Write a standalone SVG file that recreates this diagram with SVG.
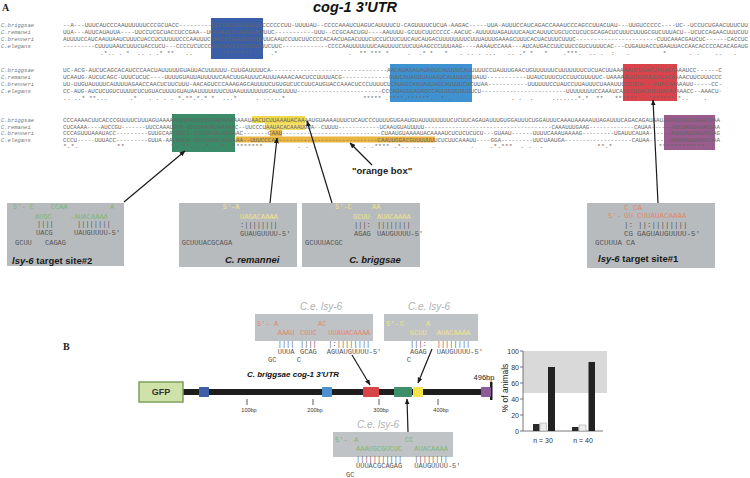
<svg xmlns="http://www.w3.org/2000/svg" width="750" height="478" viewBox="0 0 750 478">
<defs>
<marker id="ah" viewBox="0 0 10 10" refX="9" refY="5" markerWidth="6" markerHeight="6" orient="auto" markerUnits="userSpaceOnUse"><path d="M0,1 L10,5 L0,9 z" fill="#1a1a1a"/></marker>
<style>
.seq{font-family:"Liberation Mono",monospace;font-size:5.5px;fill:#666}
.sp{font-family:"Liberation Mono",monospace;font-size:5.5px;fill:#777;font-style:italic}
.m{font-family:"Liberation Mono",monospace;font-size:7px}
.m8{font-family:"Liberation Mono",monospace;font-size:7.5px}
.g{fill:#7fb673}.y{fill:#eee488}.r{fill:#e0876c}.k{fill:#555}
.lab{font-family:"Liberation Sans",Arial,sans-serif;font-weight:bold;font-size:9.5px;fill:#1a1a1a}
.ce{font-family:"Liberation Sans",Arial,sans-serif;font-style:italic;font-size:10px;fill:#b0b0b0}
.gb{fill:#b8bbbd}
.gb2{fill:#c0c3c5}
.ln{stroke:#1a1a1a;stroke-width:1.2;fill:none;marker-end:url(#ah)}
.sm{font-family:"Liberation Sans",Arial,sans-serif;font-size:5.5px;fill:#333}
.ax{font-family:"Liberation Sans",Arial,sans-serif;font-size:7px;fill:#333}
</style>
</defs>
<rect width="750" height="478" fill="#fff"/>
<text x="2" y="11" font-family="Liberation Serif,serif" font-weight="bold" font-size="10" fill="#222">A</text>
<text x="355" y="12" text-anchor="middle" font-family="Liberation Sans,Arial,sans-serif" font-weight="bold" font-style="italic" font-size="14.5" fill="#111">cog-1 3'UTR</text>

<!-- highlight boxes -->
<g id="highlights">
<rect x="211" y="18" width="52" height="41" fill="#3a5fa8"/>
<rect x="390" y="64" width="82" height="38" fill="#3f92d2"/>
<rect x="623" y="64" width="54" height="37" fill="#d9444c"/>
<rect x="172" y="114" width="63" height="38" fill="#3b8a68"/>
<rect x="664" y="115" width="51" height="35" fill="#9a5b8d"/>
<rect x="252" y="116" width="53" height="7" fill="#f0da4c"/>
<rect x="265" y="123" width="40" height="7" fill="#f3e06a"/>
<rect x="270" y="130" width="12" height="6.5" fill="#e9b540"/>
<rect x="236" y="136.5" width="199" height="6" fill="#e9b540"/>
</g>

<!-- alignment block 1 -->
<g id="block1">
<text class="sp" x="1" y="27">C.briggsae</text>
<text class="sp" x="1" y="34">C.remanei</text>
<text class="sp" x="1" y="41">C.brenneri</text>
<text class="sp" x="1" y="48">C.elegans</text>
<text class="seq" x="63" y="27" textLength="685" lengthAdjust="spacingAndGlyphs">--A---UUUCAUCCCAAUUUUUUCCCGCUACC---------UCCCAGUGUUUUUUCCCCCCUU-UUUUAU--CCCCAAAUCUAGUCAUUUUCU-CAGUUUUCUCUA-AAGAC-----UUA-AUUUCCAUCAGACCAAAUCCCAGCCUUACUAU---UUGUCCCCC----UC--UCCUCUGAACUUUCUU</text>
<text class="seq" x="63" y="34" textLength="685" lengthAdjust="spacingAndGlyphs">UUA---AUUCAUAUUA----UUCCUCGCUACCUCCGAA--UCCUAUCCCAGUGUUUUUC-----------UUU--CCGCAACUGU----AAUUUU-GCUUCUUCCCCC-AACUC-AUUUUUAGAUUUCAAUCAUUUCUGCUCCUCUCGCAGACUCUUUCUUUGCGUCUUUACU--UCUCCAGAACUUUCUU</text>
<text class="seq" x="63" y="41" textLength="685" lengthAdjust="spacingAndGlyphs">AUUUUCCAUCAAUUAAUCUUUCUACCUCUUUUUCCCAAUUUCUAUCCCAGUGUUUUUUUCAAUCCUUCUUCCCCACAACUAGACUUUCUCCUCUUCUUCAUCAUGACUUUUUUUUCUUUAUUUGAAAGCUUUCACUACUUUCUUUC-----------------------CUUCAAACGAUCUC------CACCUC</text>
<text class="seq" x="63" y="48" textLength="685" lengthAdjust="spacingAndGlyphs">---------CUUUUAAUCUUUCUACCUCU---CCCCUCUCCCUUCAACCCAGUGUUUUCUUC-------------CCCCAAUUUUUUUCAAUUUUCUUCUUAAGCCCUUUAAG----AAAAUCCAAA---AUCAUGACCUUCUUCCGUCUUUUCAC---CUGAUUACCUGAAUUACCAACACCCCACACAGAUG</text>
<text class="seq" x="63" y="55" xml:space="preserve" textLength="685" lengthAdjust="spacingAndGlyphs">          .*.. . *  .. . .* **   ..      ..********  *  .*                   .  ** *** *     .  .* *   *   . .. . ...   .. .* *   *    .***.  .. .  :   .         *      . .    ..   .   </text>
</g>

<!-- alignment block 2 -->
<g id="block2">
<text class="sp" x="1" y="72">C.briggsae</text>
<text class="sp" x="1" y="79">C.remanei</text>
<text class="sp" x="1" y="86">C.brenneri</text>
<text class="sp" x="1" y="93">C.elegans</text>
<text class="seq" x="63" y="72" textLength="659" lengthAdjust="spacingAndGlyphs">UC-ACG-AUCUCAGCACAUCCCAACUAUUUUUGUAUUACUUUUUU-CUUGAUUUUCA--------------------------------AACAUAGAUAUAGUCAUUUUCAUUUUUCCUAUUUGAACUGUUUUUUCUUUUUUUCUCUACUUAAAAAUCUGACUAUACAAAAUCC------C</text>
<text class="seq" x="63" y="79" textLength="659" lengthAdjust="spacingAndGlyphs">UCAAUG-AUCUCAGC-UUUCUCUC----UUUUGUAUUAUUUUUCAACUUGAUUUCAUUUAAAACAACUCCUUUUACG-------------UUUCAUAGUUAUAGUCAUUUUCUUAUU-----------UUAUCUUUCUCCUUCUUUUUC-UAAAAAUCUGAUUCAUACAAAACUUCUUUCCC</text>
<text class="seq" x="63" y="86" textLength="659" lengthAdjust="spacingAndGlyphs">UU-UUGUAUUUUCAUUUUAGAACCAACUCUUCUUU-AACAGUCCCAAAGAGCAUUUUCUGUGUCUCCUUCAUGUACCAAACUCCCUUUUCUCAUAGCAAUAUUAGCAUUUUCUCUUAA-----------UUUUUUCCUAUCCUUAUUUCUAAAUUCCCUCA---AUACAAAAAUU-----CC-</text>
<text class="seq" x="63" y="93" textLength="659" lengthAdjust="spacingAndGlyphs">CC-AUG-AUCUCUGUCUUUUCUCUGUACUUUUGUAUAAUUUUUUUCUUAAUUUUUUUGCAUGUUUU------------------------CCCAUAGUUAUAGCCAUUUUUUUUUUCU------------------------UUUUUUUUCCAAAUCAUCCUGACUUUUACAAAAACC--AAACU-</text>
<text class="seq" x="63" y="100" xml:space="preserve" textLength="659" lengthAdjust="spacingAndGlyphs">.. ..* **...      .*   . . . . *.**.*.* *  ...*     . .....*                     ***** .****.******.. * .                . .  .     .......*.*  **   ****** . ******* *..    .    </text>
</g>

<!-- alignment block 3 -->
<g id="block3">
<text class="sp" x="1" y="122">C.briggsae</text>
<text class="sp" x="1" y="128.5">C.remanei</text>
<text class="sp" x="1" y="135">C.brenneri</text>
<text class="sp" x="1" y="141.5">C.elegans</text>
<text class="seq" x="63" y="122" textLength="657" lengthAdjust="spacingAndGlyphs">CCCAAAACUUCACCCGUUUUCUUUAGUAAAAAUGUUGUCCCAUACAAAAAAAUAACUCUUAAAUACAAAAUGUAAAAUUUCUCAUCCCUUUUGUGAAUGUAUUUUUUUUCUCUUCAGAUAUUUGUGGAUUUCUGGAUUUCAAAUAAAAAUUAGAUUUCAGACAGAUAAUACAUUUAUUAGACUAA</text>
<text class="seq" x="63" y="128.5" textLength="657" lengthAdjust="spacingAndGlyphs">CUCAAAA----AUCCGU-------UUCCAAAUGCG-UCCCAAUACAAAAAC--UUCCCUAAUACACAAAUGUA--CUUUU------------UCAAUGUAUUUUU-------------------------------------CAAAUUUGAAG-------------CAUAA------AUUUAUUAGACUAA</text>
<text class="seq" x="63" y="135" textLength="657" lengthAdjust="spacingAndGlyphs">CCCAGUUUAAAUACC---------GUUGCAAAUGCG-CCCAAUACAAAAAC-------CAAU----------------------------CUAAUGUAAAAUACAAAAUCUCUCUCUCU---GUAAU------UUUUCAAAUAAAAG---------UGAUUCAUAA------AUUUAUUAGACUAG</text>
<text class="seq" x="63" y="141.5" textLength="657" lengthAdjust="spacingAndGlyphs">CCCU-----UUUACC---------GUUA-AACUAUG-CCCAAUACAAAAAA--UUUCCCAU----------------------------CAAUUGGACGUUUUUUUCUCUUCAAAUU----GGA---------UUCUAAUGA-------------------CAUAA------AUUUAUUAGACUAA</text>
<text class="seq" x="63" y="147.5" xml:space="preserve" textLength="657" lengthAdjust="spacingAndGlyphs">*.*.          **            *. **....*...*..********         . . .            . .**** .*.. ...  .         .    .*.***  . .  .              **.*            ************.   </text>
</g>

<!-- annotation boxes panel A -->
<g id="site2">
<rect class="gb" x="7" y="203" width="117" height="63"/>
<text class="m g" x="13" y="209" xml:space="preserve">5'- C</text><text class="m g" x="50.7" y="209">CCAA</text><text class="m g" x="110" y="209">A</text>
<text class="m g" x="35" y="218.5">AUGC</text><text class="m g" x="70" y="218.5">-AUACAAAA</text>
<text class="m k" x="37" y="226">||||</text><text class="m k" x="77" y="226">||||||||</text>
<text class="m k" x="36" y="235">UACG</text><text class="m k" x="74" y="235">UAUGUUUU-5'</text>
<text class="m k" x="15" y="244.5">GCUU</text><text class="m k" x="45" y="244.5">CAGAG</text>
<text class="lab" x="12" y="263.5"><tspan font-style="italic">lsy-6</tspan> target site#2</text>
</g>
<g id="remannei">
<rect class="gb" x="179" y="203" width="118" height="64"/>
<text class="m y" x="222.7" y="209">5'-A</text>
<text class="m y" x="240" y="218.5">UAGACAAAA</text>
<text class="m k" x="240" y="227">:||||||||</text>
<text class="m k" x="240" y="236">GUAUGUUUU-5'</text>
<text class="m k" x="181.7" y="245">GCUUUACGCAGA</text>
<text class="lab" x="225" y="263" font-style="italic" font-size="10">C. remannei</text>
</g>
<g id="briggsae">
<rect class="gb" x="302" y="203" width="118" height="64"/>
<text class="m y" x="335" y="209">5'-C</text><text class="m y" x="372" y="209">AA</text>
<text class="m y" x="353" y="218.5">GCUU</text><text class="m y" x="377" y="218.5">AUACAAAA</text>
<text class="m k" x="354" y="227">|||:</text><text class="m k" x="377" y="227">||||||||</text>
<text class="m k" x="354" y="236">AGAG</text><text class="m k" x="377" y="236">UAUGUUUU-5'</text>
<text class="m k" x="305" y="245">GCUUUACGC</text>
<text class="lab" x="375" y="263" text-anchor="middle" font-style="italic" font-size="10">C. briggsae</text>
</g>
<g id="site1">
<rect class="gb" x="587" y="203" width="128" height="65"/>
<text class="m8 r" x="624" y="209.5">C</text><text class="m8 r" x="633" y="209.5">CA</text>
<text class="m8 r" x="608" y="218">5'-</text><text class="m8 r" x="624" y="218">GU</text><text class="m8 r" x="637" y="218">CUUAUACAAAA</text>
<text class="m8 k" x="624" y="226.5">|:</text><text class="m8 k" x="638" y="226.5">||:||||||||</text>
<text class="m8 k" x="624" y="235.5">CG</text><text class="m8 k" x="637" y="235.5">GAGUAUGUUUU-5'</text>
<text class="m8 k" x="595" y="244.5">GCUUUA</text><text class="m8 k" x="626" y="244.5">CA</text>
<text class="lab" x="598" y="262"><tspan font-style="italic">lsy-6</tspan> target site#1</text>
</g>
<text class="lab" x="352" y="174" font-size="8.5">"orange box"</text>

<!-- connectors -->
<g id="connectors">
<line class="ln" x1="124" y1="202" x2="185" y2="151"/>
<line class="ln" x1="270" y1="203" x2="277" y2="138"/>
<line class="ln" x1="332" y1="203" x2="307" y2="121"/>
<line class="ln" x1="372" y1="165" x2="350" y2="143"/>
<line class="ln" x1="658" y1="203" x2="653" y2="100"/>
<line class="ln" x1="352" y1="355" x2="370" y2="385"/>
<line class="ln" x1="432" y1="349" x2="418" y2="383"/>
<line class="ln" x1="408" y1="432" x2="407" y2="399"/>
</g>

<!-- panel B -->
<text x="63" y="350" font-family="Liberation Serif,serif" font-weight="bold" font-size="10" fill="#222">B</text>
<g id="ce1">
<text class="ce" x="321" y="310" text-anchor="middle">C.e. lsy-6</text>
<rect class="gb2" x="255" y="314" width="118" height="27"/>
<text class="m r" x="257" y="326">5'-</text><text class="m r" x="274" y="326">A</text><text class="m r" x="318" y="326">AC</text>
<text class="m r" x="277.7" y="335">AAAU</text><text class="m r" x="300" y="335">CGUC</text><text class="m r" x="328.3" y="335">UUAUACAAAA</text>
<text class="m k" x="277.7" y="346">||||</text><text class="m k" x="300" y="346">||||</text><text class="m k" x="328.3" y="346">|:||||||||</text>
<text class="m k" x="277.7" y="353.5">UUUA</text><text class="m k" x="300" y="353.5">GCAG</text><text class="m k" x="326.7" y="353.5">AGUAUGUUUU-5'</text>
<text class="m k" x="268" y="361.5">GC</text><text class="m k" x="296.7" y="361.5">C</text>
</g>
<g id="ce2">
<text class="ce" x="429" y="310" text-anchor="middle">C.e. lsy-6</text>
<rect class="gb2" x="384" y="314" width="94" height="27"/>
<text class="m y" x="386" y="326">5'-</text><text class="m y" x="400" y="326">C</text><text class="m y" x="426" y="326">A</text>
<text class="m y" x="410" y="335">GCUU</text><text class="m y" x="436.7" y="335">AUACAAAA</text>
<text class="m k" x="410" y="346">|||:</text><text class="m k" x="436.7" y="346">||||||||</text>
<text class="m k" x="410" y="353.5">AGAG</text><text class="m k" x="436.7" y="353.5">UAUGUUUU-5'</text>
<text class="m k" x="406.7" y="361.5">C</text>
</g>
<g id="ce3">
<text class="ce" x="378" y="428" text-anchor="middle">C.e. lsy-6</text>
<rect class="gb2" x="333" y="432" width="120" height="25"/>
<text class="m g" x="335" y="441.5">5'-</text><text class="m g" x="354" y="441.5">A</text><text class="m g" x="405" y="441.5">CC</text>
<text class="m g" x="356" y="451">AAAUGCGUCUC</text><text class="m g" x="414.3" y="451">AUACAAAA</text>
<text class="m k" x="356" y="460.5">|||||||||||</text><text class="m k" x="414.3" y="460.5">||||||||</text>
<text class="m k" x="356" y="468">UUUACGCAGAG</text><text class="m k" x="414.3" y="468">UAUGUUUU-5'</text>
<text class="m k" x="346" y="476.5">GC</text>
</g>

<g id="construct">
<text x="293" y="377" text-anchor="middle" font-family="Liberation Sans,Arial,sans-serif" font-weight="bold" font-style="italic" font-size="8" fill="#111">C. briggsae cog-1 3'UTR</text>
<line x1="183" y1="392" x2="491" y2="392" stroke="#1e1e1e" stroke-width="6"/>
<rect x="490" y="382" width="2.5" height="18" fill="#1e1e1e"/>
<rect x="139" y="382" width="44" height="20" fill="#cfe2aa" stroke="#7aa35a" stroke-width="1.5"/>
<text x="161" y="395" text-anchor="middle" font-family="Liberation Sans,Arial,sans-serif" font-weight="bold" font-size="9" fill="#333">GFP</text>
<rect x="199" y="387" width="10" height="10" rx="1" fill="#3c5ea6"/>
<rect x="322" y="387" width="10" height="10" rx="1" fill="#4a90d0"/>
<rect x="363" y="387" width="16" height="10" rx="1" fill="#d9434a"/>
<rect x="394" y="387" width="18" height="10" rx="1" fill="#3f8e6a"/>
<rect x="413" y="387" width="10" height="10" rx="1" fill="#f5e14a"/>
<rect x="481" y="387" width="10" height="10" rx="1" fill="#8e5a9a"/>
<g stroke="#333" stroke-width="0.8">
<line x1="247" y1="399" x2="247" y2="405"/><line x1="313" y1="399" x2="313" y2="405"/><line x1="379" y1="399" x2="379" y2="405"/><line x1="438" y1="399" x2="438" y2="405"/>
</g>
<text class="sm" x="249" y="412" text-anchor="middle">100bp</text>
<text class="sm" x="315" y="412" text-anchor="middle">200bp</text>
<text class="sm" x="381" y="412" text-anchor="middle">300bp</text>
<text class="sm" x="441" y="412" text-anchor="middle">400bp</text>
<text x="484" y="380" text-anchor="middle" font-family="Liberation Sans,Arial,sans-serif" font-size="7.5" fill="#222">496bp</text>
</g>

<g id="chart">
<rect x="523" y="351" width="84" height="42" fill="#d9d9d9"/>
<g stroke="#555" stroke-width="0.8">
<line x1="523" y1="351" x2="523" y2="431"/>
<line x1="523" y1="431" x2="603" y2="431"/>
<line x1="520" y1="351" x2="523" y2="351"/><line x1="520" y1="367" x2="523" y2="367"/><line x1="520" y1="383" x2="523" y2="383"/><line x1="520" y1="399" x2="523" y2="399"/><line x1="520" y1="415" x2="523" y2="415"/><line x1="520" y1="431" x2="523" y2="431"/>
</g>
<text class="ax" x="519" y="353.5" text-anchor="end">100</text>
<text class="ax" x="519" y="369.5" text-anchor="end">80</text>
<text class="ax" x="519" y="385.5" text-anchor="end">60</text>
<text class="ax" x="519" y="401.5" text-anchor="end">40</text>
<text class="ax" x="519" y="417.5" text-anchor="end">20</text>
<text class="ax" x="519" y="433.5" text-anchor="end">0</text>
<text x="508" y="388" transform="rotate(-90 508 388)" text-anchor="middle" font-family="Liberation Sans,Arial,sans-serif" font-size="8.5" fill="#222">% of animals</text>
<rect x="533" y="424" width="6.5" height="7" fill="#2a2a2a"/>
<rect x="540" y="423" width="6.5" height="8" fill="#ececec" stroke="#999" stroke-width="0.5"/>
<rect x="548" y="367" width="7" height="64" fill="#222"/>
<rect x="572" y="427" width="6.5" height="4" fill="#2a2a2a"/>
<rect x="579" y="425" width="7" height="6" fill="#ececec" stroke="#999" stroke-width="0.5"/>
<rect x="588.5" y="362" width="6.5" height="69" fill="#222"/>
<text class="ax" x="543" y="443" text-anchor="middle">n = 30</text>
<text class="ax" x="583" y="443" text-anchor="middle">n = 40</text>
</g>
</svg>
